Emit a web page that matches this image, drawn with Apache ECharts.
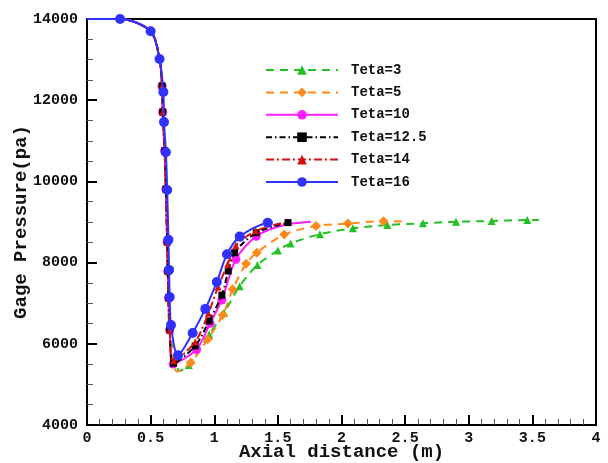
<!DOCTYPE html>
<html>
<head>
<meta charset="utf-8">
<script src="https://cdn.jsdelivr.net/npm/echarts@6/dist/echarts.min.js"></script>
<style>html,body{margin:0;padding:0;background:#fff}#c{width:608px;height:463px}</style>
</head>
<body>
<div id="c"></div>
<script>
// ---- data ----
var xTicks = [0, 0.5, 1, 1.5, 2, 2.5, 3, 3.5, 4];
var yTicks = [4000, 6000, 8000, 10000, 12000, 14000];

var names = ['Teta=3', 'Teta=5', 'Teta=10', 'Teta=12.5', 'Teta=14', 'Teta=16'];

var t3x = [0, 0.26, 0.50, 0.57, 0.59, 0.595, 0.61, 0.62, 0.63, 0.635, 0.64, 0.65, 0.73, 0.80, 0.96, 1.077, 1.20, 1.339, 1.50, 1.60, 1.83, 2.09, 2.36, 2.64, 2.90, 3.18, 3.46, 3.55];
var t3y = [14000, 14000, 13700, 13015, 12350, 11710, 10750, 9810, 8510, 7790, 7130, 6340, 5330, 5480, 6230, 6766, 7420, 7940, 8300, 8470, 8700, 8844, 8926, 8968, 9007, 9025, 9049, 9050];

var t5x = [0, 0.26, 0.50, 0.57, 0.59, 0.595, 0.61, 0.62, 0.63, 0.635, 0.64, 0.65, 0.71, 0.815, 0.949, 1.067, 1.145, 1.25, 1.334, 1.55, 1.80, 2.05, 2.33, 2.50];
var t5y = [14000, 14000, 13700, 13015, 12350, 11710, 10750, 9810, 8510, 7790, 7130, 6340, 5310, 5535, 6111, 6709, 7342, 7970, 8244, 8690, 8901, 8960, 9020, 9010];

var t10x = [0, 0.26, 0.50, 0.57, 0.59, 0.595, 0.61, 0.62, 0.63, 0.635, 0.64, 0.65, 0.676, 0.86, 0.967, 1.059, 1.17, 1.33, 1.55, 1.76];
var t10y = [14000, 14000, 13700, 13015, 12350, 11710, 10750, 9810, 8510, 7790, 7130, 6340, 5500, 5860, 6505, 7080, 8081, 8650, 8925, 9005];

var t125x = [0, 0.26, 0.50, 0.57, 0.59, 0.595, 0.61, 0.62, 0.63, 0.635, 0.64, 0.65, 0.68, 0.85, 0.96, 1.06, 1.11, 1.16, 1.33, 1.58];
var t125y = [14000, 14000, 13700, 13015, 12350, 11710, 10750, 9810, 8510, 7790, 7130, 6340, 5520, 5946, 6562, 7200, 7793, 8244, 8737, 8985];

var t14x = [0, 0.26, 0.50, 0.57, 0.59, 0.595, 0.61, 0.62, 0.63, 0.635, 0.64, 0.65, 0.68, 0.85, 0.954, 1.03, 1.106, 1.17, 1.326, 1.55];
var t14y = [14000, 14000, 13700, 13015, 12350, 11710, 10750, 9810, 8510, 7790, 7130, 6340, 5580, 6050, 6751, 7400, 7966, 8420, 8778, 8990];

var t16x = [0, 0.26, 0.50, 0.57, 0.60, 0.605, 0.62, 0.63, 0.64, 0.645, 0.65, 0.66, 0.715, 0.83, 0.93, 1.02, 1.10, 1.20, 1.42, 1.46];
var t16y = [14000, 14000, 13700, 13015, 12200, 11460, 10720, 9790, 8560, 7820, 7150, 6460, 5720, 6266, 6860, 7520, 8204, 8640, 8983, 8990];

// ---- styling / series config ----
var cfg = [
  {x: t3x, y: t3y, color: '#22c022', symbol: 'triangle', size: 8, type: [8, 6], hide: [0,1,2,3,4,5,6,7,8,9,10,11,12,27]},
  {x: t5x, y: t5y, color: '#ff8a1c', symbol: 'diamond', size: 10, type: [8, 6], hide: [0,1,2,3,12,23]},
  {x: t10x, y: t10y, color: '#ff1cff', symbol: 'circle', size: 9, type: 'solid', hide: [0,1,2,3,18,19]},
  {x: t125x, y: t125y, color: '#000000', symbol: 'rect', size: 7, type: [6, 3, 1.5, 3], hide: [0,1,2,3]},
  {x: t14x, y: t14y, color: '#d41010', symbol: 'triangle', size: 7, type: [8, 3, 2, 3], hide: [0,1,2,3,19]},
  {x: t16x, y: t16y, color: '#3030ff', symbol: 'circle', size: 10, type: 'solid', hide: [0,19]}
];

var series = cfg.map(function (c, k) {
  var data = c.x.map(function (xv, i) {
    var item = {value: [xv, c.y[i]]};
    if (c.hide.indexOf(i) >= 0) item.symbol = 'none';
    return item;
  });
  return {
    name: names[k],
    type: 'line',
    data: data,
    smooth: 0.3,
    symbol: c.symbol,
    symbolSize: c.size,
    showAllSymbol: true,
    color: c.color,
    itemStyle: {color: c.color},
    lineStyle: {color: c.color, width: 2, type: c.type},
    z: 2 + k
  };
});

var axisFont = {fontFamily: 'Liberation Mono', fontWeight: 'bold', fontSize: 15, color: '#111'};

var chart = echarts.init(document.getElementById('c'), null, {renderer: 'canvas'});
chart.setOption({
  animation: false,
  backgroundColor: '#fff',
  grid: {left: 87, right: 12, top: 19, bottom: 38, containLabel: false, outerBoundsMode: 'none',
         show: true, borderColor: '#000', borderWidth: 2, backgroundColor: 'transparent'},
  legend: {
    orient: 'vertical',
    left: 265,
    top: 63,
    itemWidth: 72,
    itemHeight: 12,
    itemGap: 8.4,
    padding: 0,
    data: names,
    textStyle: {fontFamily: 'Liberation Mono', fontWeight: 'bold', fontSize: 14, color: '#111', padding: [0, 0, 0, 8]}
  },
  xAxis: {
    type: 'value', min: xTicks[0], max: xTicks[xTicks.length - 1], interval: xTicks[1] - xTicks[0],
    name: 'Axial distance (m)', nameLocation: 'middle', nameGap: 18, nameMoveOverlap: false,
    nameTextStyle: {fontFamily: 'Liberation Mono', fontWeight: 'bold', fontSize: 19, color: '#111'},
    axisLine: {lineStyle: {color: '#000', width: 2}},
    axisTick: {inside: true, length: 10, lineStyle: {color: '#000', width: 2}},
    minorTick: {show: true, splitNumber: 5, length: 6, lineStyle: {color: '#555', width: 1}},
    splitLine: {show: false},
    axisLabel: Object.assign({margin: 6, formatter: function (v) { return String(v); }}, axisFont)
  },
  yAxis: {
    type: 'value', min: yTicks[0], max: yTicks[yTicks.length - 1], interval: yTicks[1] - yTicks[0],
    name: 'Gage Pressure(pa)', nameLocation: 'middle', nameGap: 56, nameRotate: 90, nameMoveOverlap: false,
    nameTextStyle: {fontFamily: 'Liberation Mono', fontWeight: 'bold', fontSize: 19, color: '#111'},
    axisLine: {lineStyle: {color: '#000', width: 2}},
    axisTick: {inside: true, length: 10, lineStyle: {color: '#000', width: 2}},
    minorTick: {show: true, splitNumber: 4, length: 6, lineStyle: {color: '#555', width: 1}},
    splitLine: {show: false},
    axisLabel: Object.assign({margin: 9, formatter: function (v) { return String(v); }}, axisFont)
  },
  series: series
});
</script>
</body>
</html>
